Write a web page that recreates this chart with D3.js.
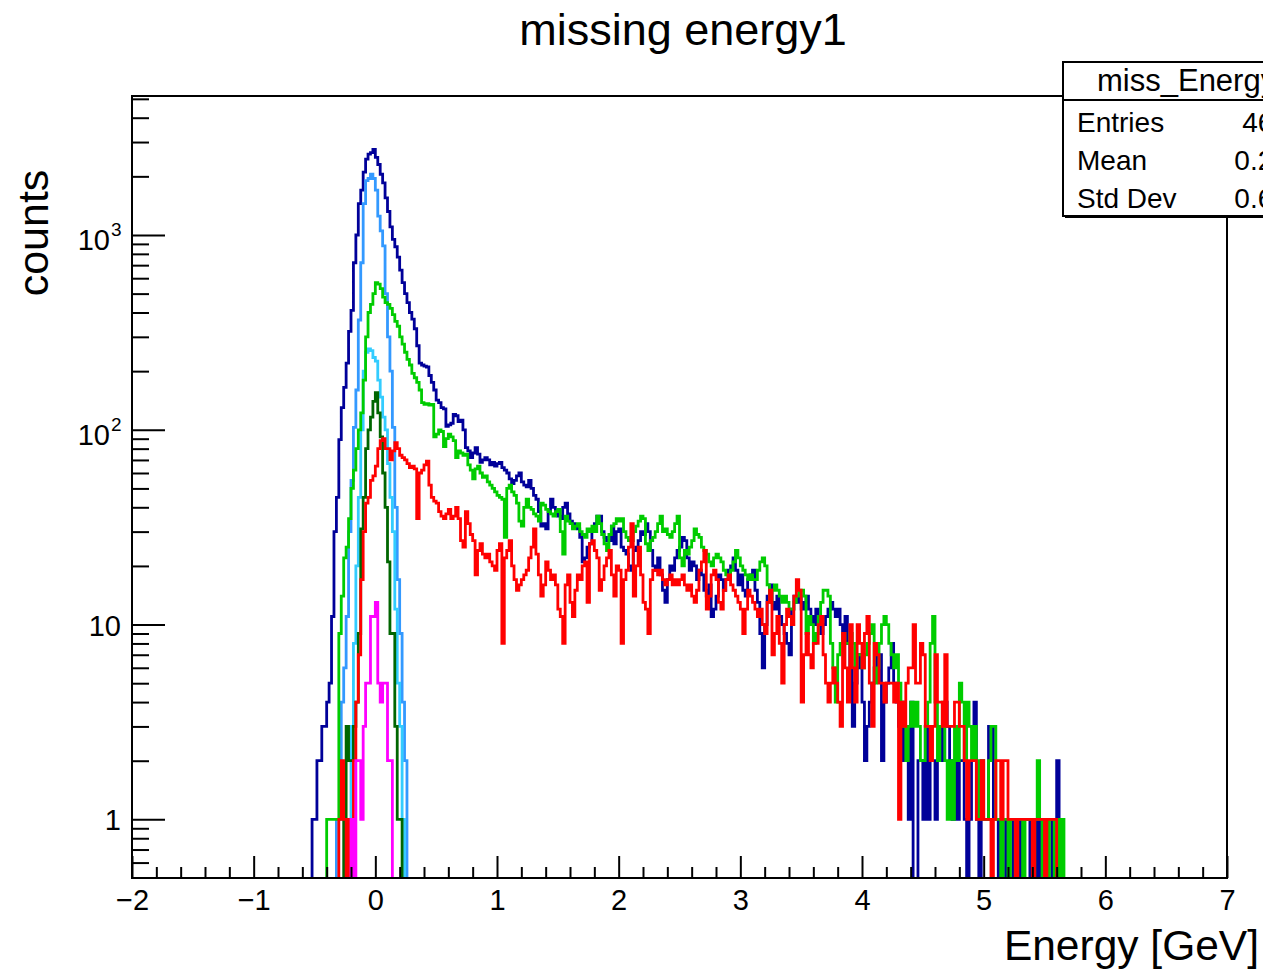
<!DOCTYPE html>
<html>
<head>
<meta charset="utf-8">
<script src="https://cdn.jsdelivr.net/npm/d3@7"></script>
<style>
  body { margin: 0; background: #fff; }
  svg { display: block; }
  text { font-family: "Liberation Sans", Arial, Helvetica, sans-serif; fill: #000; }
</style>
</head>
<body>
<svg id="chart" width="1263" height="969"></svg>
<script>
// Binning of all histograms: 0.02 GeV bins starting at -2 GeV
const binLow = -2;
const binWidth = 0.02;
const xRange = [-2, 7];
const yRange = [0.5, 5170];

// Bin contents (counts), each list starts at its own first bin index
const totalFirstBin = 74;
const totalCounts = [
  1,1,2,2,3,3,4,5,11,30,
  45,89,130,165,220,320,410,720,1000,1450,
  1700,2100,2450,2600,2650,2750,2500,2300,2050,1850,
  1550,1320,1100,950,870,770,660,570,500,450,
  400,370,330,270,220,215,212,210,190,175,
  160,142,138,130,128,104,106,108,120,118,
  110,112,100,81,78,72,76,81,75,68,
  70,72,70,66,68,65,67,68,64,62,
  60,56,53,55,58,60,54,52,51,55,
  50,46,44,38,32,33,31,38,44,40,
  37,36,35,40,42,37,34,33,32,31,
  28,21,22,25,26,30,33,36,36,30,
  28,27,27,32,26,30,31,25,24,23,
  20,19,24,25,27,30,29,33,30,24,
  20,19,22,18,15,13,17,20,19,22,
  24,25,28,27,22,19,21,20,17,19,
  18,15,14,16,11,12,14,18,17,15,
  17,19,20,22,19,16,18,15,14,17,
  18,19,15,13,9,6,10,14,16,13,
  12,14,11,10,9,8,7,12,14,13,
  14,12,13,14,12,11,10,12,11,9,
  10,11,12,13,12,11,12,10,9,11,
  8,6,3,5,6,7,4,2,3,4,
  5,6,7,7,2,4,5,6,8,5,
  4,3,4,2,3,1,4,0,0,2,
  2,1,3,1,2,2,1,2,3,2,
  4,3,2,1,2,1,2,2,1,0,
  1,2,4,1,0,2,1,1,3,3,
  1,1,0,1,1,0,1,1,0,1,
  1,0,1,1,1,0,1,1,0,1,
  1,0,1,1,0,1,2
];

const peakFirstBin = 84;
const peakCounts = [
  1,1,4,6,11,30,55,103,160,366,
  720,1450,1900,1950,2050,1950,1700,1250,1050,880,
  500,300,200,103,40,17,9,4,2
];

const sharpFirstBin = 89;
const sharpCounts = [
  1,3,8,20,45,100,200,250,260,255,
  235,225,180,147,116,100,67,45,30,12,
  5,3,1
];

const broadFirstBin = 80;
const broadCounts = [
  1,1,1,1,1,9,14,22,25,35,
  50,62,80,100,122,180,300,400,440,500,
  570,560,530,480,450,440,420,390,360,340,
  300,275,250,230,215,195,185,175,160,138,
  135,136,134,135,92,95,100,98,82,90,
  95,92,88,72,78,76,74,75,66,62,
  56,63,65,60,57,58,54,52,50,48,
  46,45,44,28,50,52,48,46,42,34,
  32,40,44,40,39,37,36,34,42,41,
  39,38,37,36,38,39,30,23,36,34,
  33,31,32,33,30,29,28,31,30,32,
  30,36,33,29,26,24,29,32,33,35,
  34,35,30,28,27,27,30,32,34,36,
  35,26,24,27,28,30,33,36,30,31,
  29,28,30,33,36,22,20,24,23,25,
  27,31,29,28,25,24,23,21,20,22,
  23,22,21,19,18,17,19,21,24,22,
  20,19,18,17,18,17,17,19,21,22,
  20,16,13,15,16,15,14,13,14,13,
  12,12,13,14,15,15,14,9,11,10,
  8,9,11,13,15,15,14,8,6,4,
  7,8,9,8,8,9,8,6,7,7,
  6,7,8,9,10,5,6,8,10,11,
  10,8,7,6,7,5,4,3,2,3,
  4,3,4,3,2,2,3,4,8,11,
  4,2,3,4,2,1,2,1,3,2,
  5,4,2,4,3,2,3,2,1,2,
  1,1,2,3,3,1,1,0,1,1,
  0,1,1,0,1,1,0,1,1,1,
  0,1,2,1,0,1,0,1,1,0,
  1,0,1
];

const narrowFirstBin = 87;
const narrowCounts = [
  1,3,2,2,3,4,9,31,45,80,
  100,116,140,155,122,92,60,40,21,9,
  9,3,1,1
];

const tailFirstBin = 85;
const tailCounts = [
  1,2,1,0,1,1,2,4,7,17,
  30,42,45,55,58,65,80,88,90,80,
  80,70,78,86,80,74,72,70,67,64,
  65,63,35,60,62,66,69,52,45,43,
  42,38,36,35,37,39,35,36,40,35,
  27,25,38,33,29,27,18,24,26,23,
  22,23,21,20,19,24,26,8,22,24,
  27,20,17,15,16,17,18,19,22,25,
  31,23,18,14,16,21,19,17,18,16,
  12,11,8,16,18,13,11,15,18,17,
  20,21,13,26,27,24,22,15,17,20,
  22,24,18,14,20,19,8,17,19,25,
  33,14,20,25,18,13,12,9,17,19,
  19,18,19,17,16,17,18,16,17,16,
  17,18,16,15,16,14,13,15,19,21,
  24,12,14,18,19,17,13,12,15,17,
  18,16,15,14,13,12,9,12,15,14,
  13,12,11,12,10,9,13,15,7,9,
  11,8,5,10,12,11,10,14,17,15,
  4,7,9,7,6,8,8,10,11,7,
  5,4,5,6,5,4,3,9,6,4,
  10,6,4,10,8,6,9,11,5,3,
  8,7,5,5,4,5,5,5,4,5,
  1,4,3,5,6,6,10,5,5,8,
  7,3,3,2,3,7,4,4,3,7,
  3,3,3,4,4,3,3,2,1,2,
  2,2,1,1,2,1,1,1,0,1,
  2,2,1,2,2,1,1,1,0,1,
  1,1,1,1,1,0,1,1,1,1,
  0,1,1,1,1
];

const smallFirstBin = 90;
const smallCounts = [1,0,2,2,1,3,5,5,11,11,13,5,4,5,5,2,2];

// Axis ticks and labels
const xTickValues = [-2, -1, 0, 1, 2, 3, 4, 5, 6, 7];
const xTickLabels = ["\u22122", "\u22121", "0", "1", "2", "3", "4", "5", "6", "7"];
const yDecadeValues = [1, 10, 100, 1000];
const yDecadeBase = ["1", "10", "10", "10"];
const yDecadeExp = ["", "", "2", "3"];
const yMinorValues = [0.6, 0.7, 0.8, 0.9, 2, 3, 4, 5, 6, 7, 8, 9,
  20, 30, 40, 50, 60, 70, 80, 90, 200, 300, 400, 500, 600, 700, 800, 900,
  2000, 3000, 4000, 5000];

const titleText = "missing energy1";
const xTitle = "Energy [GeV]";
const yTitle = "counts";
const statsName = "miss_Energy1";
const statsLabels = ["Entries", "Mean", "Std Dev"];
const statsValues = ["46137", "0.2412", "0.6473"];

const seriesList = [
  { first: totalFirstBin, counts: totalCounts, color: "#000099" },
  { first: peakFirstBin, counts: peakCounts, color: "#3399ff" },
  { first: sharpFirstBin, counts: sharpCounts, color: "#33ccff" },
  { first: broadFirstBin, counts: broadCounts, color: "#00cc00" },
  { first: narrowFirstBin, counts: narrowCounts, color: "#006600" },
  { first: tailFirstBin, counts: tailCounts, color: "#ff0000" },
  { first: smallFirstBin, counts: smallCounts, color: "#ff00ff" }
];

// ---- layout ----
const frame = { left: 132, right: 1227, top: 96, bottom: 878 };
const svg = d3.select("#chart");

const x = d3.scaleLinear().domain(xRange).range([frame.left, frame.right]);
const y = d3.scaleLog().domain(yRange).range([frame.bottom, frame.top]);

const defs = svg.append("defs");
defs.append("clipPath").attr("id", "frameClip")
  .append("rect")
  .attr("x", frame.left).attr("y", frame.top)
  .attr("width", frame.right - frame.left)
  .attr("height", frame.bottom - frame.top);
defs.append("clipPath").attr("id", "canvasClip")
  .append("rect")
  .attr("x", 0).attr("y", 0)
  .attr("width", 1263).attr("height", 969);

// Step outline of a histogram; empty bins drop below the frame floor
const floorValue = 0.3;
function stepPoints(first, counts) {
  const pts = [];
  const start = binLow + first * binWidth;
  pts.push([start, floorValue]);
  counts.forEach((c, k) => {
    const lo = binLow + (first + k) * binWidth;
    const v = c > 0 ? c : floorValue;
    pts.push([lo, v], [lo + binWidth, v]);
  });
  pts.push([binLow + (first + counts.length) * binWidth, floorValue]);
  return pts;
}

const line = d3.line()
  .x(d => x(d[0]))
  .y(d => y(d[1]));

const plot = svg.append("g").attr("clip-path", "url(#frameClip)");
seriesList.forEach(s => {
  plot.append("path")
    .attr("d", line(stepPoints(s.first, s.counts)))
    .attr("fill", "none")
    .attr("stroke", s.color)
    .attr("stroke-width", 2.8)
    .attr("stroke-linejoin", "miter");
});

// ---- axes ----
const xMajor = d3.axisBottom(x)
  .tickValues(xTickValues)
  .tickSize(-22)
  .tickPadding(10)
  .tickFormat((d, i) => xTickLabels[i]);
const xAxisG = svg.append("g").attr("transform", `translate(0,${frame.bottom})`).call(xMajor);
xAxisG.select(".domain").remove();
xAxisG.selectAll("line").attr("stroke", "#000").attr("stroke-width", 2);
xAxisG.selectAll("text")
  .attr("font-size", 29)
  .attr("font-family", "Liberation Sans, Arial, sans-serif")
  .attr("dy", "0.95em")
  .attr("y", 4);

const xMinorValues = d3.range(-2, 7.0001, 0.2).filter(v => Math.abs(v - Math.round(v)) > 1e-6);
const xMinor = d3.axisBottom(x).tickValues(xMinorValues).tickSize(-11).tickFormat("");
const xMinorG = svg.append("g").attr("transform", `translate(0,${frame.bottom})`).call(xMinor);
xMinorG.select(".domain").remove();
xMinorG.selectAll("line").attr("stroke", "#000").attr("stroke-width", 2);

const yMajor = d3.axisLeft(y).tickValues(yDecadeValues).tickSize(-33).tickFormat("");
const yMajorG = svg.append("g").attr("transform", `translate(${frame.left},0)`).call(yMajor);
yMajorG.select(".domain").remove();
yMajorG.selectAll("line").attr("stroke", "#000").attr("stroke-width", 2);

const yMinor = d3.axisLeft(y).tickValues(yMinorValues).tickSize(-17).tickFormat("");
const yMinorG = svg.append("g").attr("transform", `translate(${frame.left},0)`).call(yMinor);
yMinorG.select(".domain").remove();
yMinorG.selectAll("line").attr("stroke", "#000").attr("stroke-width", 2);

// decade labels, with exponents as superscripts
yDecadeValues.forEach((v, i) => {
  const ty = y(v);
  const hasExp = yDecadeExp[i] !== "";
  const g = svg.append("g");
  if (hasExp) {
    g.append("text")
      .attr("x", 110).attr("y", ty + 15)
      .attr("text-anchor", "end")
      .attr("font-size", 29)
      .text(yDecadeBase[i]);
    g.append("text")
      .attr("x", 111).attr("y", ty + 1)
      .attr("text-anchor", "start")
      .attr("font-size", 19)
      .text(yDecadeExp[i]);
  } else {
    g.append("text")
      .attr("x", 121).attr("y", ty + 11)
      .attr("text-anchor", "end")
      .attr("font-size", 29)
      .text(yDecadeBase[i]);
  }
});

// frame
svg.append("rect")
  .attr("x", frame.left).attr("y", frame.top)
  .attr("width", frame.right - frame.left)
  .attr("height", frame.bottom - frame.top)
  .attr("fill", "none")
  .attr("stroke", "#000")
  .attr("stroke-width", 2);

// ---- titles ----
svg.append("text")
  .attr("x", 683).attr("y", 45)
  .attr("text-anchor", "middle")
  .attr("font-size", 45)
  .text(titleText);

svg.append("text")
  .attr("x", 1259).attr("y", 960)
  .attr("text-anchor", "end")
  .attr("font-size", 42.5)
  .text(xTitle);

svg.append("text")
  .attr("transform", "translate(48,233) rotate(-90)")
  .attr("text-anchor", "middle")
  .attr("font-size", 43)
  .text(yTitle);

// ---- statistics box (runs past the right edge of the canvas) ----
const box = { left: 1063, top: 62, bottom: 216, headerLine: 100, right: 1330 };
const statsG = svg.append("g").attr("clip-path", "url(#canvasClip)");
statsG.append("rect")
  .attr("x", box.left + 2).attr("y", box.top + 2)
  .attr("width", box.right - box.left).attr("height", box.bottom - box.top)
  .attr("fill", "#000");
statsG.append("rect")
  .attr("x", box.left).attr("y", box.top)
  .attr("width", box.right - box.left).attr("height", box.bottom - box.top)
  .attr("fill", "#fff")
  .attr("stroke", "#000")
  .attr("stroke-width", 2);
statsG.append("line")
  .attr("x1", box.left).attr("x2", box.right)
  .attr("y1", box.headerLine).attr("y2", box.headerLine)
  .attr("stroke", "#000").attr("stroke-width", 2);
statsG.append("text")
  .attr("x", 1097).attr("y", 91)
  .attr("font-size", 31)
  .text(statsName);
const rowY = [132, 170, 208];
statsLabels.forEach((t, i) => {
  statsG.append("text")
    .attr("x", 1077).attr("y", rowY[i])
    .attr("font-size", 28)
    .text(t);
  statsG.append("text")
    .attr("x", 1320).attr("y", rowY[i])
    .attr("text-anchor", "end")
    .attr("font-size", 28)
    .text(statsValues[i]);
});
</script>
</body>
</html>
